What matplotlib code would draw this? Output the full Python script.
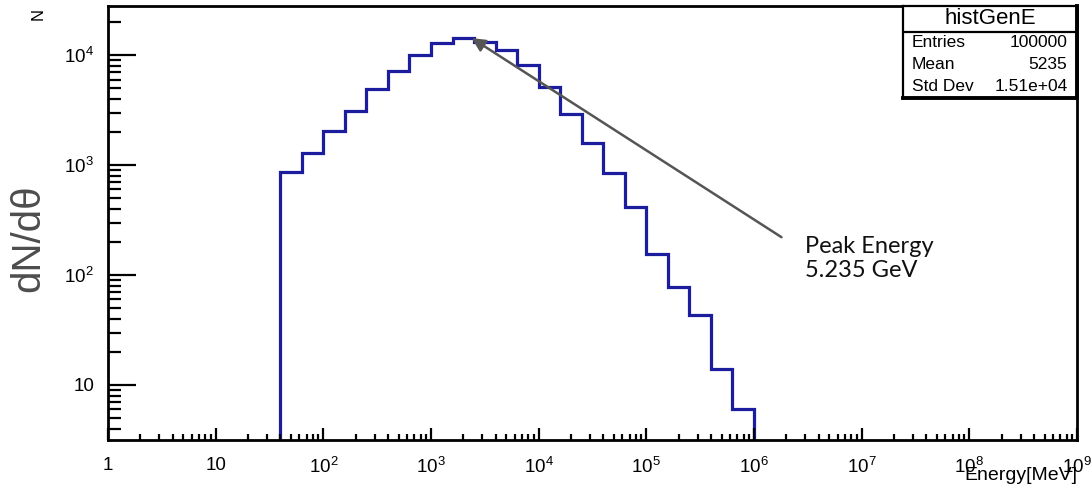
import matplotlib
matplotlib.use('Agg')
import matplotlib.pyplot as plt
import numpy as np
from matplotlib.ticker import LogLocator, NullFormatter

plt.rcParams['font.family'] = ['Liberation Sans', 'DejaVu Sans']
plt.rcParams['mathtext.fontset'] = 'custom'
plt.rcParams['mathtext.rm'] = 'Liberation Sans'
plt.rcParams['mathtext.it'] = 'Liberation Sans:italic'
plt.rcParams['mathtext.bf'] = 'Liberation Sans:bold'

# histogram contents, log bins of 0.2 decade from 10^1.6 to 10^6 MeV
counts = [860, 1285, 2040, 3100, 4910, 7160, 10000, 12850, 14280, 13200, 11100,
          8110, 5150, 2910, 1585, 845, 415, 155, 78, 43, 14, 6]
edges = np.logspace(1.6, 6.0, len(counts) + 1)

xticks = [1, 1e1, 1e2, 1e3, 1e4, 1e5, 1e6, 1e7, 1e8, 1e9]
xtick_labels = ['1', '10'] + [r'$\mathregular{10^{%d}}$' % k for k in range(2, 10)]
yticks = [1e1, 1e2, 1e3, 1e4]
ytick_labels = ['10', r'$\mathregular{10^{2}}$', r'$\mathregular{10^{3}}$', r'$\mathregular{10^{4}}$']

stats_names = ['Entries', 'Mean', 'Std Dev']
stats_values = ['100000', '5235', '1.51e+04']

peak_x, peak_y = 2390, 14280
label_x, label_y = 1.8e6, 221

W, H = 1091, 487
fig = plt.figure(figsize=(W / 100, H / 100), dpi=100)
ax = fig.add_axes([108 / W, 1 - 440 / H, 969 / W, 434 / H])

ax.stairs(counts, edges, baseline=1e-3, color='#1c1c9e', lw=2.3)
ax.set_xscale('log')
ax.set_yscale('log')
ax.set_xlim(1, 1e9)
ax.set_ylim(3.16, 2.8e4)

ax.set_xticks(xticks, labels=xtick_labels)
ax.set_yticks(yticks, labels=ytick_labels)
ax.xaxis.set_minor_locator(LogLocator(base=10, subs=np.arange(2, 10), numticks=100))
ax.yaxis.set_minor_locator(LogLocator(base=10, subs=np.arange(2, 10), numticks=100))
ax.xaxis.set_minor_formatter(NullFormatter())
ax.yaxis.set_minor_formatter(NullFormatter())

ax.tick_params(axis='both', which='both', direction='in', width=1.6, color='black',
               labelsize=13.5, top=False, right=False)
ax.tick_params(axis='x', which='major', length=9, pad=12)
ax.tick_params(axis='x', which='minor', length=4.5)
ax.tick_params(axis='y', which='major', length=20, pad=10)
ax.tick_params(axis='y', which='minor', length=9.5)
for s in ax.spines.values():
    s.set_linewidth(2)

# arrow to the peak
ax.annotate('', xy=(peak_x, peak_y), xytext=(label_x, label_y),
            arrowprops=dict(arrowstyle='-|>', color='#555555', lw=1.8,
                            mutation_scale=20, shrinkA=0, shrinkB=0))
fig.text(805 / W, 1 - 236 / H, 'Peak Energy\n5.235 GeV', family='Lato',
         fontsize=17, va='top', ha='left', linespacing=1.15, color='#111111')

# axis titles
fig.text(28 / W, 1 - 238 / H, 'dN/d\u03b8', rotation=90, ha='center', va='center',
         fontsize=29, color='#4d4d4d')
fig.text(38 / W, 1 - 14 / H, 'N', rotation=90, ha='center', va='center', fontsize=12)
fig.text(1077 / W, 1 - 475 / H, 'Energy[MeV]', ha='right', va='center', fontsize=14)

# stats box
sax = fig.add_axes([903 / W, 1 - 98 / H, 174 / W, 92 / H])
sax.set_xticks([])
sax.set_yticks([])
sax.set_xlim(0, 1)
sax.set_ylim(0, 1)
for name, s in sax.spines.items():
    s.set_linewidth(2.8 if name in ('right', 'bottom') else 1.6)
sax.axhline(0.717, color='black', lw=1.6)
sax.text(0.5, 0.865, 'histGenE', ha='center', va='center', fontsize=16)
for i, (n, v) in enumerate(zip(stats_names, stats_values)):
    yy = [0.598, 0.359, 0.12][i]
    sax.text(0.05, yy, n, ha='left', va='center', fontsize=12.5)
    sax.text(0.945, yy, v, ha='right', va='center', fontsize=12.5)

fig.savefig('out.png', dpi=100)
